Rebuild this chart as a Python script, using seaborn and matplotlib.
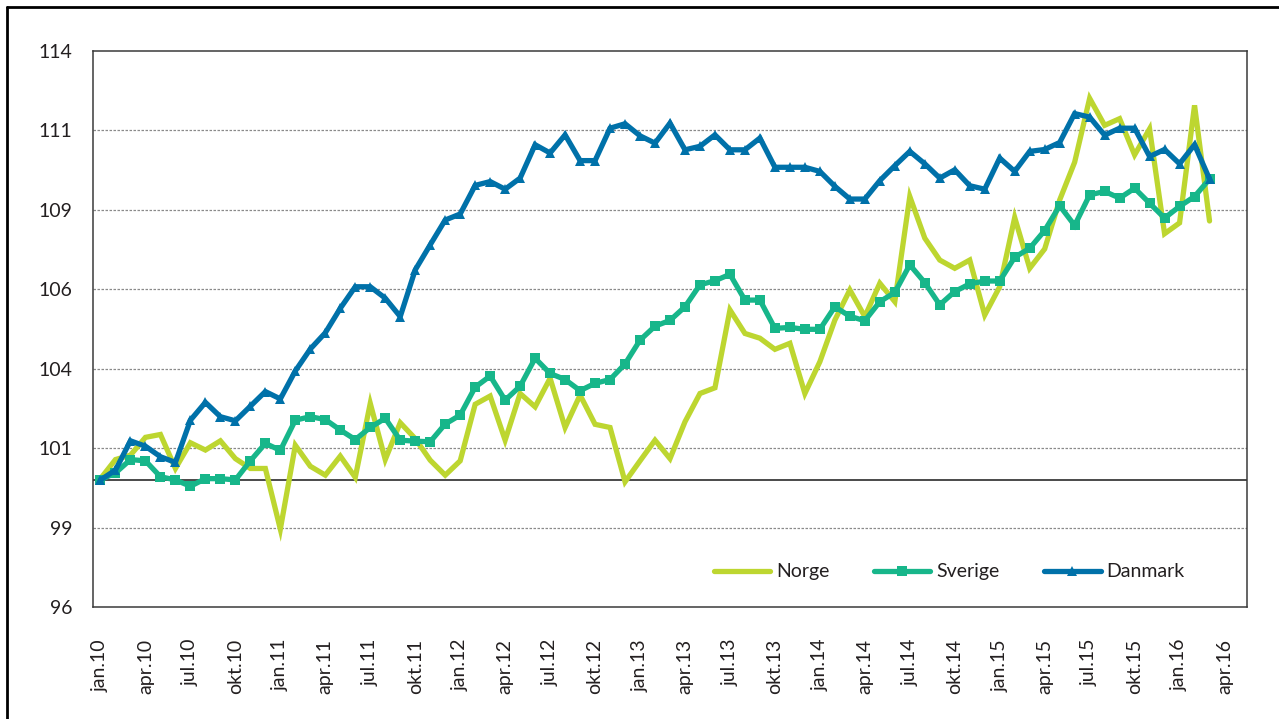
import numpy as np
import pandas as pd
import matplotlib
matplotlib.use("Agg")
import matplotlib.pyplot as plt
from matplotlib.lines import Line2D
import seaborn as sns

# ---------------- data ----------------
month_abbr = ["jan", "feb", "mar", "apr", "mai", "jun",
              "jul", "aug", "sep", "okt", "nov", "des"]
years = ["10", "11", "12", "13", "14", "15", "16"]
# category axis: jan.10 .. mai.16
categories = [f"{m}.{y}" for y in years for m in month_abbr][:77]

norge = [100.04, 100.64, 100.78, 101.34, 101.43, 100.36, 101.17, 100.94, 101.23, 100.67,
         100.36, 100.36, 98.45, 101.09, 100.43, 100.15, 100.75, 100.08, 102.41, 100.64,
         101.80, 101.30, 100.62, 100.15, 100.60, 102.38, 102.64, 101.25, 102.72, 102.30,
         103.20, 101.65, 102.67, 101.75, 101.65, 99.94, 100.60, 101.25, 100.67, 101.83,
         102.72, 102.90, 105.35, 104.61, 104.46, 104.11, 104.30, 102.72, 103.72, 105.03,
         105.98, 105.14, 106.19, 105.61, 108.92, 107.61, 106.92, 106.66, 106.92, 105.19,
         106.08, 108.26, 106.66, 107.27, 108.81, 110.00, 112.01, 111.16, 111.37, 110.23,
         111.05, 107.75, 108.09, 111.79, 108.15]

sverige = [100.00, 100.22, 100.64, 100.60, 100.10, 100.00, 99.80, 100.04, 100.04, 100.00,
           100.60, 101.15, 100.93, 101.88, 101.99, 101.90, 101.57, 101.27, 101.65, 101.94,
           101.25, 101.22, 101.20, 101.76, 102.04, 102.92, 103.27, 102.51, 102.95, 103.83,
           103.35, 103.16, 102.81, 103.04, 103.16, 103.65, 104.40, 104.84, 105.02, 105.45,
           106.14, 106.27, 106.47, 105.66, 105.66, 104.77, 104.80, 104.74, 104.74, 105.45,
           105.15, 105.01, 105.61, 105.90, 106.77, 106.21, 105.51, 105.93, 106.17, 106.26,
           106.26, 107.01, 107.29, 107.85, 108.63, 108.01, 108.97, 109.08, 108.87, 109.18,
           108.71, 108.24, 108.61, 108.92, 109.47]

danmark = [100.00, 100.31, 101.23, 101.06, 100.73, 100.55, 101.88, 102.44, 101.99, 101.86,
           102.32, 102.78, 102.55, 103.43, 104.12, 104.63, 105.40, 106.08, 106.08, 105.72,
           105.14, 106.61, 107.40, 108.18, 108.37, 109.27, 109.39, 109.15, 109.50, 110.55,
           110.29, 110.86, 110.05, 110.05, 111.07, 111.21, 110.83, 110.60, 111.23, 110.39,
           110.50, 110.86, 110.39, 110.39, 110.76, 109.84, 109.84, 109.84, 109.71, 109.24,
           108.84, 108.84, 109.42, 109.89, 110.34, 109.95, 109.50, 109.76, 109.26, 109.15,
           110.13, 109.71, 110.34, 110.40, 110.62, 111.53, 111.42, 110.85, 111.07, 111.07,
           110.18, 110.40, 109.95, 110.55, 109.47]

y_ticks = [96, 98.5, 101, 103.5, 106, 108.5, 111, 113.5]
y_tick_labels = ["96", "99", "101", "104", "106", "109", "111", "114"]
x_tick_labels = ["jan.10", "apr.10", "jul.10", "okt.10", "jan.11", "apr.11", "jul.11", "okt.11",
                 "jan.12", "apr.12", "jul.12", "okt.12", "jan.13", "apr.13", "jul.13", "okt.13",
                 "jan.14", "apr.14", "jul.14", "okt.14", "jan.15", "apr.15", "jul.15", "okt.15",
                 "jan.16", "apr.16"]

series_names = ["Norge", "Sverige", "Danmark"]
series_values = [norge, sverige, danmark]
colors = {"Norge": "#bdd630", "Sverige": "#17b68a", "Danmark": "#0071a9"}
markers = {"Norge": None, "Sverige": "s", "Danmark": "^"}

# ---------------- style ----------------
sns.set_theme(style="white")
plt.rcParams["font.family"] = ["Lato", "DejaVu Sans"]
text_color = "#231f20"

fig = plt.figure(figsize=(12.79, 7.19), dpi=100)
W, H = 1279, 719
ax = fig.add_axes([93 / W, (H - 607) / H, 1154 / W, 556 / H])

frames = []
for name, vals in zip(series_names, series_values):
    frames.append(pd.DataFrame({"idx": np.arange(len(vals)), "value": vals, "land": name}))
df = pd.concat(frames, ignore_index=True)

# grid & baseline
for yv in y_ticks[1:-1]:
    ax.axhline(yv, color="#8a8a8a", lw=0.9, ls=(0, (2.0, 1.2)), zorder=1)
ax.axhline(100, color="#4a4a4a", lw=1.4, zorder=1.5)

for name in series_names:
    sub = df[df["land"] == name]
    sns.lineplot(data=sub, x="idx", y="value", ax=ax, color=colors[name],
                 lw=3.8, marker=markers[name], markersize=6.5,
                 markeredgewidth=0, label=name, zorder=3, solid_joinstyle="miter")

ax.set_xlim(-0.5, len(categories) - 0.5)
ax.set_ylim(96, 113.5)
ax.set_yticks(y_ticks)
ax.set_yticklabels(y_tick_labels)
ax.set_xticks([categories.index(l) for l in x_tick_labels])
ax.set_xticklabels(x_tick_labels, rotation=90)
ax.set_xlabel("")
ax.set_ylabel("")
ax.tick_params(axis="y", length=0, pad=15, labelsize=14, labelcolor=text_color)
ax.tick_params(axis="x", length=0, pad=23, labelsize=14, labelcolor=text_color)
for sp in ax.spines.values():
    sp.set_visible(True)
    sp.set_color("#3a3a3a")
    sp.set_linewidth(1.1)

leg = ax.legend(loc="center", bbox_to_anchor=(0.742, 0.063), ncol=3, frameon=False,
                fontsize=14, handlelength=2.9, handletextpad=0.3, columnspacing=2.3,
                labelcolor=text_color)

# outer frame (left and top edges visible)
fig.add_artist(Line2D([7 / W, 7 / W], [0, 1 - 7 / H], transform=fig.transFigure,
                      color="black", lw=2.0))
fig.add_artist(Line2D([7 / W, 1], [1 - 7 / H, 1 - 7 / H], transform=fig.transFigure,
                      color="black", lw=2.0))

fig.savefig("out.png", dpi=100, facecolor="white")
